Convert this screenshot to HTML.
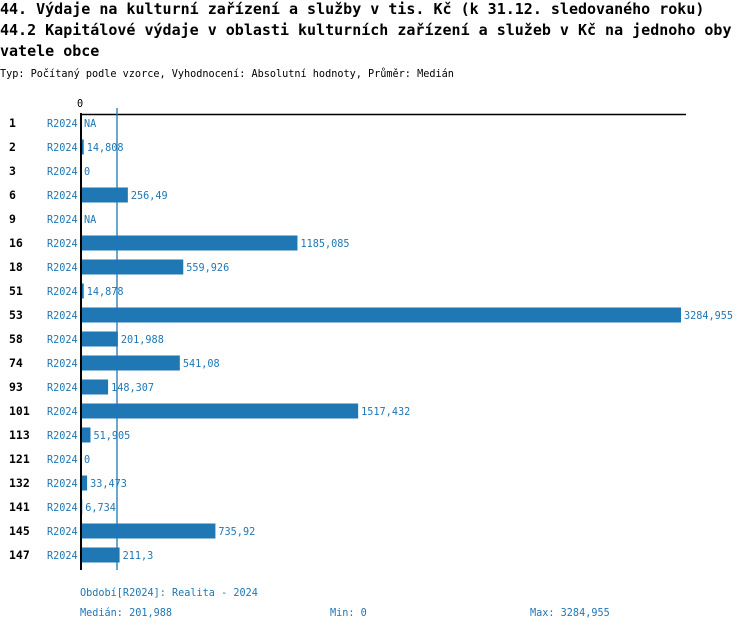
<!DOCTYPE html>
<html><head><meta charset="utf-8"><style>
body{margin:0;background:#fff;width:750px;height:630px;overflow:hidden}
svg{display:block}
.t{font-family:"DejaVu Sans Mono","Liberation Mono",monospace;font-weight:bold;font-size:15px;fill:#000}
.s{font-family:"DejaVu Sans Mono","Liberation Mono",monospace;font-size:10.2px}
</style></head><body>
<svg width="750" height="630" xmlns="http://www.w3.org/2000/svg">
<text class="t" x="0" y="14">44. Výdaje na kulturní zařízení a služby v tis. Kč (k 31.12. sledovaného roku)</text>
<text class="t" x="0" y="35">44.2 Kapitálové výdaje v oblasti kulturních zařízení a služeb v Kč na jednoho oby</text>
<text class="t" x="0" y="56">vatele obce</text>
<text class="s" x="0" y="77" fill="#000">Typ: Počítaný podle vzorce, Vyhodnocení: Absolutní hodnoty, Průměr: Medián</text>
<text class="s" x="77" y="107" fill="#000">0</text>
<line x1="80" y1="114.5" x2="686" y2="114.5" stroke="#000" stroke-width="1.5"/>
<g id="rows"></g>
<line x1="117" y1="108" x2="117" y2="570" stroke="#1f77b4" stroke-width="1.3"/>
<line x1="81" y1="113" x2="81" y2="570" stroke="#000" stroke-width="2"/>
<text class="s" x="80" y="596" fill="#1f77b4">Období[R2024]: Realita - 2024</text>
<text class="s" x="80" y="616" fill="#1f77b4">Medián: 201,988</text>
<text class="s" x="330" y="616" fill="#1f77b4">Min: 0</text>
<text class="s" x="530" y="616" fill="#1f77b4">Max: 3284,955</text>
</svg>
<script>
var d=[["1",null,"NA"],["2",14.808,"14,808"],["3",0,"0"],["6",256.49,"256,49"],["9",null,"NA"],["16",1185.085,"1185,085"],["18",559.926,"559,926"],["51",14.878,"14,878"],["53",3284.955,"3284,955"],["58",201.988,"201,988"],["74",541.08,"541,08"],["93",148.307,"148,307"],["101",1517.432,"1517,432"],["113",51.905,"51,905"],["121",0,"0"],["132",33.473,"33,473"],["141",6.734,"6,734"],["145",735.92,"735,92"],["147",211.3,"211,3"]];
var g=document.getElementById("rows"),h="";
d.forEach(function(r,i){var c=123+24*i;var w=r[1]?r[1]*600/3284.955:0;
h+='<text x="9" y="'+(c+4)+'" style="font-family:DejaVu Sans Mono,monospace;font-weight:bold;font-size:11.5px">'+r[0]+'</text>';
h+='<text class="s" x="47" y="'+(c+4)+'" fill="#1f77b4">R2024</text>';
if(w>0)h+='<rect x="81" y="'+(c-7.5)+'" width="'+w+'" height="15" fill="#1f77b4"/>';
h+='<text class="s" x="'+(84+w)+'" y="'+(c+4)+'" fill="#1f77b4">'+r[2]+'</text>';});
g.innerHTML=h;
</script>
</body></html>
